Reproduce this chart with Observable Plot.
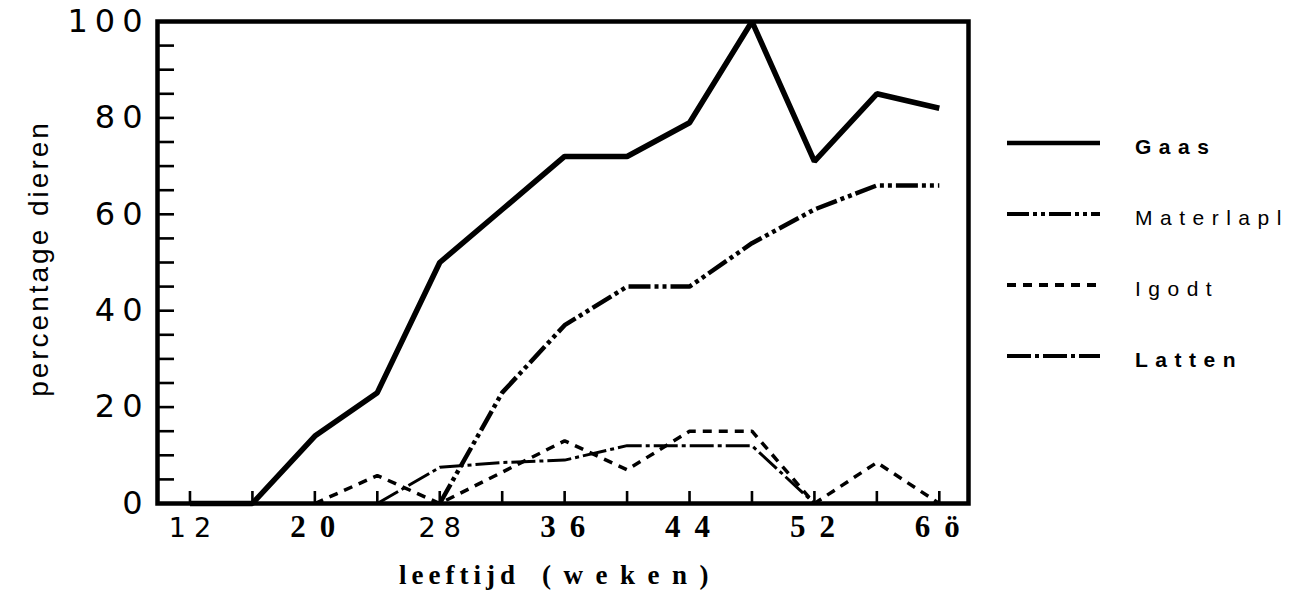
<!DOCTYPE html>
<html><head><meta charset="utf-8">
<script src="https://cdn.jsdelivr.net/npm/d3@7"></script>
<script src="https://cdn.jsdelivr.net/npm/@observablehq/plot@0.6"></script>
<style>
body{margin:0;background:#fff;}
#wrap{position:relative;width:1301px;height:597px;overflow:hidden;}
#legend{position:absolute;left:0;top:0;}
</style></head><body><div id="wrap"></div>
<script>
// ---- data ----
const weeks     = [12, 16, 20, 24,  28, 32, 36, 40, 44, 48,  52, 56, 60];
const gaas      = [0,  0,  14, 23,  50, 61, 72, 72, 79, 100, 71, 85, 82];
const materlapl = [null,null,null,null, 0, 23, 37, 45, 45, 54, 61, 66, 66];
const igodt     = [null,null, 0, 5.8, 0, 6.5, 13, 7, 15, 15, 0, 8.5, 0];
const latten    = [null,null,null, 0, 7.5, 8.5, 9, 12, 12, 12, 0, null, null];

const seriesNames  = ["Gaas", "Materlapl", "Igodt", "Latten"];
const seriesValues = [gaas, materlapl, igodt, latten];

const yTicksMinor = d3.range(0, 101, 5);
const yTickLabels = [0, 20, 40, 60, 80, 100];
const xTicksMinor = d3.range(12, 61, 4);
const xTickValues = [12, 20, 28, 36, 44, 52, 60];
const xTickLabels = ["12", "20", "28", "36", "44", "52", "6ö"];
const xTickSerif  = [false, true, false, true, true, true, true];
const xTitle = "leeftijd (weken)";
const yTitle = "percentage dieren";

// ---- styles ----
const dashes  = [null, "22,4,4,4,4,4", "9,7", "24,4,4,4"];
const widths  = [5.5, 4.5, 3.5, 3];
const legendBold = [true, false, false, true];

const rows = [];
seriesNames.forEach((s, j) => weeks.forEach((w, i) => {
  const v = seriesValues[j][i];
  if (v != null) rows.push({series: s, week: w, value: v});
}));

const lineMarks = seriesNames.map((s, j) => Plot.line(rows.filter(d => d.series === s), {
  x: "week", y: "value", stroke: "black", strokeWidth: widths[j],
  strokeDasharray: dashes[j] || undefined, strokeLinecap: "butt", strokeLinejoin: "miter"
}));

const idx = xTickValues.map((_, i) => i);

const chart = Plot.plot({
  width: 1301, height: 597,
  marginLeft: 157, marginRight: 333, marginTop: 21, marginBottom: 94,
  x: {domain: [9.92, 61.87], label: null},
  y: {domain: [0, 100], label: null},
  style: {background: "white", color: "black"},
  marks: [
    Plot.axisY({ticks: yTicksMinor, tickSize: -17, strokeWidth: 2.6, tickFormat: () => "", label: null}),
    Plot.axisY({ticks: yTickLabels, tickSize: 0, tickPadding: 8, tickFormat: d => String(d),
      fontSize: 32, fontFamily: "DejaVu Sans", label: null}),
    Plot.axisX({ticks: xTicksMinor, tickSize: -12, strokeWidth: 2.6, tickFormat: () => "", label: null}),
    Plot.text(idx.filter(i => !xTickSerif[i]), {x: i => xTickValues[i], text: i => xTickLabels[i],
      frameAnchor: "bottom", dy: 33, dx: 4, fontSize: 27, fontFamily: "DejaVu Sans"}),
    Plot.text(idx.filter(i => xTickSerif[i]), {x: i => xTickValues[i], text: i => xTickLabels[i],
      frameAnchor: "bottom", dy: 33, dx: 5, fontSize: 31, fontWeight: "bold", fontFamily: "Liberation Serif"}),
    Plot.text([xTitle], {frameAnchor: "bottom", dy: 80, dx: -3, text: d => d, fontSize: 27,
      fontWeight: "bold", fontFamily: "Liberation Serif"}),
    Plot.text([yTitle], {frameAnchor: "left", textAnchor: "middle", dx: -118, dy: -4, rotate: -90,
      text: d => d, fontSize: 28, fontFamily: "Liberation Sans"}),
    ...lineMarks,
    Plot.frame({stroke: "black", strokeWidth: 4.5})
  ]
});
document.getElementById("wrap").appendChild(chart);

// letter-spacing per text group (matched by content and font family)
const ySet = new Set(yTickLabels.map(String));
const xSans = new Set(xTickLabels.filter((_, i) => !xTickSerif[i]));
const xSerif = new Set(xTickLabels.filter((_, i) => xTickSerif[i]));
d3.select(chart).selectAll("text").each(function() {
  const t = this.textContent;
  const fam = (this.closest("g").getAttribute("font-family") || "");
  let ls = null;
  if (t === xTitle) {
    // two words with different tracking, as in the reference
    const words = t.split(" ");
    this.textContent = "";
    d3.select(this).append("tspan").style("letter-spacing", "5px").text(words[0]);
    d3.select(this).append("tspan").attr("dx", 22).style("letter-spacing", "12.5px").text(words[1]);
    return;
  }
  if (t === yTitle) ls = 3;
  else if (fam.includes("Serif") && xSerif.has(t)) ls = 14;
  else if (fam.includes("DejaVu") && xSans.has(t) && !ySet.has(t)) ls = 8;
  else if (ySet.has(t)) ls = 7;
  if (ls != null) this.style.letterSpacing = ls + "px";
});

// ---- legend ----
const leg = d3.select("#wrap").append("svg").attr("id", "legend")
  .attr("width", 1301).attr("height", 597);
seriesNames.forEach((s, j) => {
  const y = 143 + j * 71;
  leg.append("line").attr("x1", 1007).attr("x2", 1100).attr("y1", y).attr("y2", y)
    .attr("stroke", "black").attr("stroke-width", j === 0 ? 4.5 : 4)
    .attr("stroke-dasharray", dashes[j] || null);
  leg.append("text").attr("x", 1135).attr("y", y + 5).attr("dominant-baseline", "middle")
    .attr("font-family", "Liberation Sans").attr("font-size", 21)
    .attr("font-weight", legendBold[j] ? "bold" : "normal")
    .style("letter-spacing", "7.5px").text(s);
});
</script>
</body></html>
